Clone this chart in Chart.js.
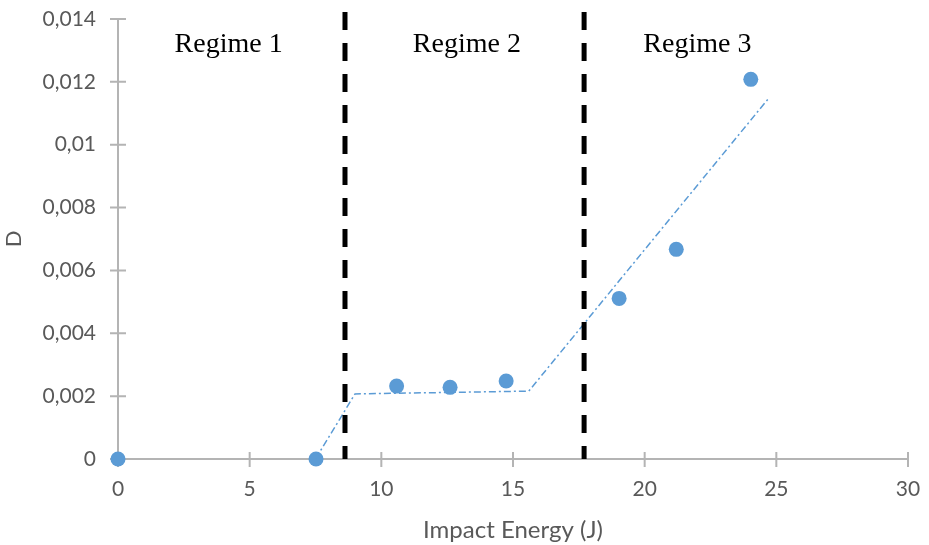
<!DOCTYPE html>
<html>
<head>
<meta charset="utf-8">
<script src="https://cdn.jsdelivr.net/npm/chart.js@4/dist/chart.umd.min.js"></script>
<style>
  html, body { margin: 0; padding: 0; background: #fff; }
  #wrap { width: 929px; height: 545px; }
</style>
</head>
<body>
<div id="wrap"><canvas id="myChart" width="929" height="545"></canvas></div>
<script>
// measured points
let energy = [0, 7.52, 10.58, 12.61, 14.74, 19.03, 21.2, 24.03];
let damage = [0, 0, 0.00232, 0.00228, 0.00248, 0.00511, 0.00667, 0.01208];

// piecewise trend line (dash-dot)
let trendX = [7.5, 9.0, 15.6, 24.72];
let trendY = [0, 0.00207, 0.00216, 0.01149];

// regime boundaries + labels
let boundaries = [8.62, 17.7];
let boundaryTop = 0.01422;
let regimeNames = ["Regime 1", "Regime 2", "Regime 3"];
let regimeX = [4.2, 13.25, 22.0];
let regimeY = 0.0132;

let xTicks = [0, 5, 10, 15, 20, 25, 30];
let yTicks = [0, 0.002, 0.004, 0.006, 0.008, 0.01, 0.012, 0.014];
let yTickLabels = ["0", "0,002", "0,004", "0,006", "0,008", "0,01", "0,012", "0,014"];

const axisGrey = "#B4B4B4";
const blue = "#5B9BD5";

var ctx = document.getElementById("myChart").getContext("2d");

// ticks that cross the axis line, like Excel
const crossTicks = {
  id: "crossTicks",
  beforeDatasetsDraw(chart) {
    const c = chart.ctx;
    const xs = chart.scales.x, ys = chart.scales.y;
    c.save();
    c.strokeStyle = axisGrey;
    c.lineWidth = 2;
    c.beginPath();
    xTicks.forEach(v => {
      const px = xs.getPixelForValue(v);
      c.moveTo(px, ys.bottom - 7);
      c.lineTo(px, ys.bottom + 8);
    });
    yTicks.forEach(v => {
      const py = ys.getPixelForValue(v);
      c.moveTo(xs.left - 8, py);
      c.lineTo(xs.left + 8, py);
    });
    c.stroke();
    c.restore();
  },
  afterDraw(chart) {
    const c = chart.ctx;
    const xs = chart.scales.x, ys = chart.scales.y;
    c.save();
    c.fillStyle = "#000";
    c.font = "28px 'Liberation Serif'";
    c.textAlign = "center";
    c.textBaseline = "middle";
    regimeNames.forEach((name, i) => {
      c.fillText(name, xs.getPixelForValue(regimeX[i]), ys.getPixelForValue(regimeY));
    });
    c.restore();
  }
};

let datasets = [];
boundaries.forEach(b => {
  datasets.push({
    type: "line",
    data: [{x: b, y: boundaryTop}, {x: b, y: 0}],
    borderColor: "#000",
    borderWidth: 5,
    borderDash: [18, 13],
    borderCapStyle: "butt",
    pointRadius: 0,
    clip: false,
  });
});
datasets.push({
  type: "line",
  data: trendX.map((v, i) => ({x: v, y: trendY[i]})),
  borderColor: blue,
  borderWidth: 1.5,
  borderDash: [7, 3, 2, 3],
  pointRadius: 0,
  tension: 0,
});
datasets.push({
  type: "scatter",
  data: energy.map((v, i) => ({x: v, y: damage[i]})),
  backgroundColor: blue,
  borderColor: blue,
  pointRadius: 7.5,
  borderWidth: 0,
  clip: false,
});

var chart1 = new Chart(ctx, {
  type: "scatter",
  data: { datasets: datasets },
  options: {
    responsive: false,
    animation: false,
    events: [],
    layout: { autoPadding: false, padding: { top: 19, right: 21, left: 0, bottom: 0 } },
    plugins: { legend: { display: false }, tooltip: { enabled: false } },
    scales: {
      x: {
        type: "linear",
        min: 0, max: 30,
        afterBuildTicks: s => { s.ticks = xTicks.map(v => ({value: v})); },
        afterFit: s => { s.height = 86; s.paddingLeft = 0; s.paddingRight = 0; },
        grid: { display: false, drawTicks: false },
        border: { display: true, color: axisGrey, width: 2 },
        ticks: { color: "#595959", font: { family: "Lato", size: 21 }, padding: 18 },
        title: {
          display: true, text: "Impact Energy (J)", color: "#595959",
          font: { family: "Lato", size: 24 }, padding: { bottom: 0 }
        }
      },
      y: {
        type: "linear",
        min: 0, max: 0.014,
        afterBuildTicks: s => { s.ticks = yTicks.map(v => ({value: v})); },
        afterFit: s => { s.width = 118; s.paddingTop = 0; s.paddingBottom = 0; },
        grid: { display: false, drawTicks: false },
        border: { display: true, color: axisGrey, width: 2 },
        ticks: {
          color: "#595959", font: { family: "Lato", size: 21 }, padding: 22,
          callback: (v, i) => yTickLabels[i]
        },
        title: {
          display: true, text: "D", color: "#595959",
          font: { family: "Lato", size: 22 }, padding: { top: 1 }
        }
      }
    }
  },
  plugins: [crossTicks]
});
</script>
</body>
</html>
